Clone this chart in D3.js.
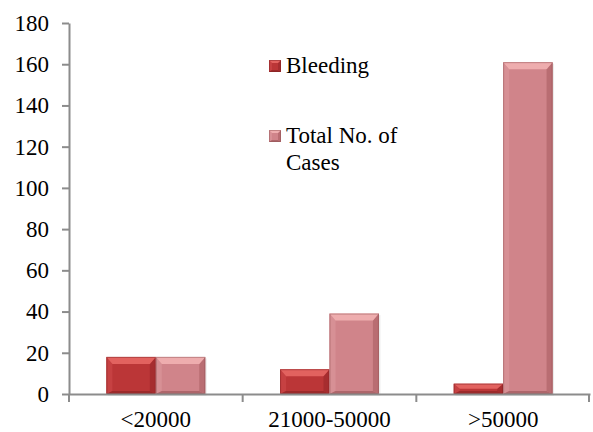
<!DOCTYPE html>
<html>
<head>
<meta charset="utf-8">
<script src="https://cdn.jsdelivr.net/npm/d3@7"></script>
</head>
<body style="margin:0">
<svg id="chart" width="593" height="432"></svg>
<script>
// Platelet count groups and case counts
const categories = ["<20000", "21000-50000", ">50000"];
const seriesNames = ["Bleeding", "Total No. of Cases"];
const bleeding = [18, 12, 5];
const totalCases = [18, 39, 161];
const yTicks = [0, 20, 40, 60, 80, 100, 120, 140, 160, 180];

const W = 593, H = 432;
const margin = { left: 69, right: 3, top: 23, bottom: 38 };
const FONT = "Liberation Serif";
const FSIZE = 23;

const svg = d3.select("#chart");

const x = d3.scaleBand().domain(categories)
  .range([margin.left, W - margin.right]).paddingInner(0).paddingOuter(0);
const xs = d3.scaleBand().domain(seriesNames)
  .range([0, x.bandwidth()]).paddingInner(0).paddingOuter(0.757);
const y = d3.scaleLinear().domain([0, 180]).range([H - margin.bottom, margin.top]);

// bevelled fill palettes
const palettes = {
  "Bleeding": { face: "#bb3637", top: "#e2625f", left: "#c64142", right: "#a62d2f", bottom: "#9c2a2b", edge: "#7c2022" },
  "Total No. of Cases": { face: "#d0848a", top: "#eeadae", left: "#d79095", right: "#b96d72", bottom: "#ae666b", edge: "#8f4f53" }
};

function bevelBar(g, x0, x1, y0, y1, pal, bx, bt, bb) {
  const w = x1 - x0, h = y1 - y0;
  const b = Math.min(bx, w / 2);
  const t = Math.min(bt, h / 2);
  const d = Math.min(bb, h / 2);
  g.append("rect").attr("x", x0).attr("y", y0).attr("width", w).attr("height", h).attr("fill", pal.face);
  const poly = (pts, fill) => g.append("polygon")
    .attr("points", pts.map(p => p.join(",")).join(" ")).attr("fill", fill);
  poly([[x0, y0], [x0 + b, y0 + t], [x0 + b, y1 - d], [x0, y1]], pal.left);
  poly([[x1, y0], [x1 - b, y0 + t], [x1 - b, y1 - d], [x1, y1]], pal.right);
  poly([[x0, y1], [x0 + b, y1 - d], [x1 - b, y1 - d], [x1, y1]], pal.bottom);
  poly([[x0, y0], [x1, y0], [x1 - b, y0 + t], [x0 + b, y0 + t]], pal.top);
  g.append("rect").attr("x", x0 + 0.5).attr("y", y0 + 0.5).attr("width", w - 1).attr("height", h - 1)
    .attr("fill", "none").attr("stroke", pal.edge).attr("stroke-opacity", 0.45).attr("stroke-width", 1);
}

// bars
const values = { "Bleeding": bleeding, "Total No. of Cases": totalCases };
const barsG = svg.append("g");
categories.forEach((c, i) => {
  seriesNames.forEach(s => {
    const v = values[s][i];
    const x0 = x(c) + xs(s), x1 = x0 + xs.bandwidth();
    barsG.append("rect").attr("x", x0 + 1.5).attr("y", y(v) + 1.5).attr("width", xs.bandwidth())
      .attr("height", y(0) - y(v)).attr("fill", "#000").attr("opacity", 0.08);
    bevelBar(barsG, x0, x1, y(v), y(0), palettes[s], 6, 7, 3);
  });
});

// axes
const axisColor = "#8c8c8c";
const yAxis = svg.append("g").attr("transform", `translate(${margin.left},0)`)
  .call(d3.axisLeft(y).tickValues(yTicks).tickSize(7).tickPadding(13).tickSizeOuter(0));
yAxis.select(".domain").attr("stroke", axisColor).attr("stroke-width", 2);
yAxis.selectAll(".tick line").attr("stroke", axisColor).attr("stroke-width", 2);
yAxis.selectAll(".tick text").attr("fill", "#000").attr("font-family", FONT).attr("font-size", FSIZE);

const xAxis = svg.append("g").attr("transform", `translate(0,${y(0)})`)
  .call(d3.axisBottom(x).tickSize(0).tickPadding(17).tickSizeOuter(0));
xAxis.select(".domain").attr("stroke", axisColor).attr("stroke-width", 2);
xAxis.selectAll(".tick text").attr("fill", "#000").attr("font-family", FONT).attr("font-size", FSIZE);
// category boundary ticks
const bounds = categories.map(c => x(c)).concat([x(categories[categories.length - 1]) + x.bandwidth() - 1]);
xAxis.selectAll("line.bound").data(bounds).enter().append("line").attr("class", "bound")
  .attr("x1", d => d).attr("x2", d => d).attr("y1", 0).attr("y2", 8)
  .attr("stroke", axisColor).attr("stroke-width", 2);

// legend
const legend = svg.append("g");
const legendItems = [
  { name: "Bleeding", lines: ["Bleeding"], y: 66 },
  { name: "Total No. of Cases", lines: ["Total No. of", "Cases"], y: 136 }
];
legendItems.forEach(it => {
  bevelBar(legend, 269, 281, it.y - 6, it.y + 6, palettes[it.name], 3, 3, 2);
  it.lines.forEach((l, k) => legend.append("text")
    .attr("x", 286).attr("y", it.y + 7 + k * 27)
    .attr("fill", "#000").attr("font-family", FONT).attr("font-size", FSIZE)
    .text(l));
});
</script>
</body>
</html>
